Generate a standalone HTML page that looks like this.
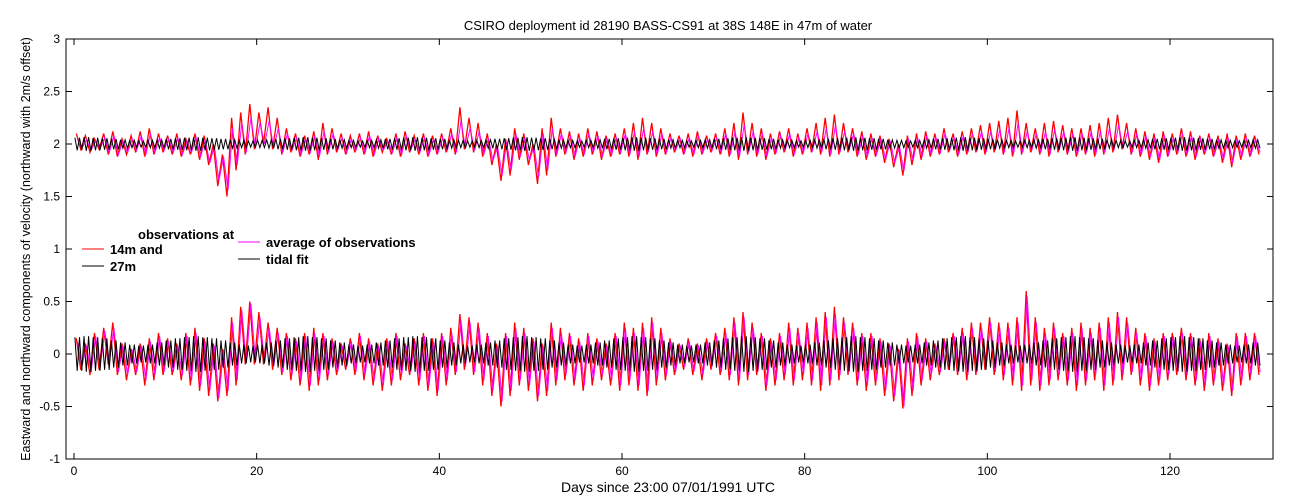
<!DOCTYPE html>
<html><head><meta charset="utf-8">
<style>
html,body{margin:0;padding:0;background:#fff;}
svg{display:block;font-family:"Liberation Sans",sans-serif;}
</style></head>
<body>
<svg id="chart" width="1300" height="500" viewBox="0 0 1300 500">
  <text x="668" y="30" text-anchor="middle" font-size="13">CSIRO deployment id 28190 BASS-CS91 at 38S 148E in 47m of water</text>
  <text x="668" y="492" text-anchor="middle" font-size="14">Days since 23:00 07/01/1991 UTC</text>
  <text transform="translate(30,249) rotate(-90)" text-anchor="middle" font-size="12.5">Eastward  and northward components of velocity  (northward with 2m/s offset)</text>
  <g id="series"></g>
  <g id="axes"></g>
  <g font-size="13" font-weight="bold">
    <text x="138" y="239">observations at</text>
    <line x1="82" y1="249" x2="104" y2="249" stroke="#ff0000"/>
    <text x="110" y="254">14m and</text>
    <line x1="82" y1="266" x2="104" y2="266" stroke="#000"/>
    <text x="110" y="271">27m</text>
    <line x1="238" y1="242" x2="260" y2="242" stroke="#ff00ff"/>
    <text x="266" y="247">average of observations</text>
    <line x1="238" y1="259" x2="260" y2="259" stroke="#000"/>
    <text x="266" y="264">tidal fit</text>
  </g>
</svg>
<script>
const xTicks=[0,20,40,60,80,100,120];
const yTicks=[-1,-0.5,0,0.5,1,1.5,2,2.5,3];
const yTickLabels=["-1","-0.5","0","0.5","1","1.5","2","2.5","3"];
const redUHi=[.15,.1,.2,.25,.3,.1,.05,.1,.15,.2,.15,.1,.2,.25,.15,.1,.05,.35,.45,.5,.4,.3,.25,.2,.15,.2,.25,.2,.15,.1,.15,.2,.15,.1,.15,.2,.1,.15,.2,.15,.2,.25,.38,.35,.3,.2,.1,.2,.3,.25,.15,.1,.3,.25,.2,.15,.2,.15,.1,.2,.3,.25,.3,.35,.25,.15,.1,.15,.1,.15,.2,.25,.35,.4,.3,.2,.15,.2,.3,.25,.3,.35,.4,.45,.35,.3,.2,.2,.15,.1,.05,.15,.2,.15,.1,.15,.2,.25,.3,.3,.35,.3,.3,.35,.6,.35,.25,.3,.2,.25,.3,.25,.3,.35,.4,.35,.25,.2,.15,.2,.2,.25,.2,.15,.2,.15,.1,.2,.2,.2];
const redULo=[-.15,-.2,-.15,-.1,-.2,-.25,-.2,-.3,-.25,-.2,-.2,-.25,-.3,-.35,-.4,-.45,-.4,-.3,-.1,-.1,-.1,-.15,-.2,-.25,-.3,-.35,-.3,-.25,-.2,-.15,-.2,-.25,-.3,-.35,-.3,-.25,-.2,-.3,-.35,-.4,-.3,-.2,-.15,-.2,-.3,-.4,-.5,-.4,-.3,-.35,-.45,-.4,-.3,-.25,-.3,-.35,-.3,-.25,-.3,-.35,-.3,-.35,-.4,-.3,-.25,-.2,-.15,-.2,-.25,-.15,-.2,-.25,-.3,-.25,-.2,-.35,-.3,-.25,-.3,-.25,-.3,-.35,-.3,-.25,-.2,-.3,-.35,-.3,-.4,-.45,-.52,-.4,-.3,-.25,-.2,-.15,-.2,-.25,-.2,-.15,-.2,-.25,-.3,-.35,-.3,-.35,-.3,-.25,-.3,-.35,-.3,-.25,-.35,-.3,-.25,-.2,-.3,-.35,-.3,-.25,-.2,-.25,-.3,-.35,-.3,-.35,-.4,-.3,-.25,-.2];
const magUHi=[.12,.08,.17,.22,.25,.08,.04,.08,.12,.17,.12,.08,.17,.2,.12,.08,.04,.3,.42,.48,.35,.25,.2,.17,.12,.17,.2,.17,.12,.08,.12,.17,.12,.08,.12,.17,.08,.12,.17,.12,.17,.2,.32,.3,.25,.17,.08,.17,.25,.2,.12,.08,.25,.2,.17,.12,.17,.12,.08,.17,.25,.2,.25,.3,.2,.12,.08,.12,.08,.12,.17,.2,.3,.35,.25,.17,.12,.17,.25,.2,.25,.3,.35,.38,.3,.25,.17,.17,.12,.08,.04,.12,.17,.12,.08,.12,.17,.2,.25,.25,.3,.25,.25,.3,.55,.3,.2,.25,.17,.2,.25,.2,.25,.3,.35,.3,.2,.17,.12,.17,.17,.2,.17,.12,.17,.12,.08,.17,.17,.17];
const magULo=[-.12,-.17,-.12,-.08,-.17,-.2,-.17,-.25,-.2,-.17,-.17,-.2,-.25,-.3,-.35,-.42,-.35,-.25,-.08,-.08,-.08,-.12,-.17,-.2,-.25,-.3,-.25,-.2,-.17,-.12,-.17,-.2,-.25,-.3,-.25,-.2,-.17,-.25,-.3,-.35,-.25,-.17,-.12,-.17,-.25,-.35,-.45,-.35,-.25,-.3,-.4,-.35,-.25,-.2,-.25,-.3,-.25,-.2,-.25,-.3,-.25,-.3,-.35,-.25,-.2,-.17,-.12,-.17,-.2,-.12,-.17,-.2,-.25,-.2,-.17,-.3,-.25,-.2,-.25,-.2,-.25,-.3,-.25,-.2,-.17,-.25,-.3,-.25,-.35,-.4,-.5,-.35,-.25,-.2,-.17,-.12,-.17,-.2,-.17,-.12,-.17,-.2,-.25,-.3,-.25,-.3,-.25,-.2,-.25,-.3,-.25,-.2,-.3,-.25,-.2,-.17,-.25,-.3,-.25,-.2,-.17,-.2,-.25,-.3,-.25,-.3,-.35,-.25,-.2,-.17];
const redVHi=[2.1,2.08,2.05,2.1,2.12,2.05,2.08,2.12,2.15,2.1,2.08,2.1,2.05,2.1,2.08,2.0,1.9,2.25,2.3,2.38,2.3,2.35,2.25,2.15,2.1,2.08,2.12,2.2,2.15,2.1,2.08,2.1,2.12,2.08,2.05,2.1,2.12,2.08,2.1,2.08,2.1,2.15,2.35,2.25,2.2,2.1,2.0,2.05,2.15,2.1,2.0,2.15,2.25,2.15,2.12,2.1,2.15,2.12,2.08,2.1,2.15,2.2,2.25,2.2,2.15,2.1,2.08,2.1,2.12,2.08,2.1,2.15,2.2,2.3,2.2,2.15,2.1,2.12,2.15,2.1,2.15,2.2,2.25,2.28,2.2,2.15,2.12,2.1,2.08,2.05,2.0,2.08,2.1,2.12,2.1,2.15,2.1,2.12,2.15,2.18,2.2,2.22,2.25,2.32,2.2,2.15,2.2,2.22,2.18,2.15,2.15,2.18,2.2,2.25,2.28,2.2,2.15,2.12,2.1,2.12,2.1,2.15,2.12,2.08,2.1,2.08,2.1,2.08,2.1,2.08];
const redVLo=[1.95,1.92,1.95,1.9,1.88,1.9,1.92,1.88,1.9,1.92,1.9,1.88,1.9,1.85,1.8,1.6,1.5,1.75,1.9,1.95,2.0,1.95,1.9,1.92,1.88,1.9,1.85,1.9,1.92,1.9,1.92,1.9,1.88,1.92,1.9,1.88,1.92,1.9,1.88,1.9,1.92,1.9,1.95,1.92,1.88,1.8,1.65,1.7,1.85,1.8,1.62,1.7,1.88,1.9,1.85,1.88,1.9,1.85,1.88,1.9,1.88,1.85,1.9,1.88,1.9,1.92,1.9,1.88,1.9,1.92,1.9,1.88,1.85,1.9,1.88,1.85,1.9,1.92,1.88,1.9,1.92,1.9,1.88,1.9,1.92,1.88,1.85,1.88,1.82,1.78,1.7,1.8,1.85,1.88,1.9,1.92,1.88,1.9,1.92,1.9,1.92,1.9,1.88,1.9,1.92,1.9,1.88,1.92,1.9,1.88,1.9,1.88,1.9,1.92,1.95,1.9,1.88,1.85,1.82,1.88,1.9,1.88,1.85,1.9,1.88,1.82,1.78,1.85,1.88,1.9];
const magVHi=[2.05,2.04,2.03,2.06,2.08,2.03,2.05,2.08,2.1,2.06,2.05,2.06,2.03,2.06,2.04,1.98,1.88,2.15,2.2,2.25,2.2,2.22,2.15,2.1,2.06,2.05,2.08,2.12,2.1,2.06,2.05,2.06,2.08,2.05,2.03,2.06,2.08,2.05,2.06,2.05,2.06,2.1,2.22,2.15,2.12,2.06,1.98,2.02,2.1,2.06,1.98,2.1,2.15,2.1,2.08,2.06,2.1,2.08,2.05,2.06,2.1,2.12,2.15,2.12,2.1,2.06,2.05,2.06,2.08,2.05,2.06,2.1,2.12,2.18,2.12,2.1,2.06,2.08,2.1,2.06,2.1,2.12,2.15,2.18,2.12,2.1,2.08,2.06,2.05,2.03,1.98,2.05,2.06,2.08,2.06,2.1,2.06,2.08,2.1,2.12,2.12,2.14,2.15,2.2,2.12,2.1,2.12,2.14,2.12,2.1,2.1,2.12,2.12,2.15,2.18,2.12,2.1,2.08,2.06,2.08,2.06,2.1,2.08,2.05,2.06,2.05,2.06,2.05,2.06,2.05];
const magVLo=[1.96,1.94,1.96,1.92,1.9,1.92,1.94,1.9,1.92,1.94,1.92,1.9,1.92,1.88,1.82,1.65,1.56,1.8,1.92,1.96,2.0,1.96,1.92,1.94,1.9,1.92,1.88,1.92,1.94,1.92,1.94,1.92,1.9,1.94,1.92,1.9,1.94,1.92,1.9,1.92,1.94,1.92,1.96,1.94,1.9,1.84,1.7,1.75,1.88,1.84,1.68,1.75,1.9,1.92,1.88,1.9,1.92,1.88,1.9,1.92,1.9,1.88,1.92,1.9,1.92,1.94,1.92,1.9,1.92,1.94,1.92,1.9,1.88,1.92,1.9,1.88,1.92,1.94,1.9,1.92,1.94,1.92,1.9,1.92,1.94,1.9,1.88,1.9,1.85,1.82,1.74,1.84,1.88,1.9,1.92,1.94,1.9,1.92,1.94,1.92,1.94,1.92,1.9,1.92,1.94,1.92,1.9,1.94,1.92,1.9,1.92,1.9,1.92,1.94,1.96,1.92,1.9,1.88,1.85,1.9,1.92,1.9,1.88,1.92,1.9,1.85,1.82,1.88,1.9,1.92];
const tideAmpU=[.16,.17,.16,.15,.13,.11,.09,.08,.09,.11,.13,.15,.16,.17,.16,.15,.13,.11,.09,.08,.09,.11,.13,.15,.16,.17,.16,.15,.13,.11,.09,.08,.09,.11,.13,.15,.16,.17,.16,.15,.13,.11,.09,.08,.09,.11,.13,.15,.16,.17,.16,.15,.13,.11,.09,.08,.09,.11,.13,.15,.16,.17,.16,.15,.13,.11,.09,.08,.09,.11,.13,.15,.16,.17,.16,.15,.13,.11,.09,.08,.09,.11,.13,.15,.16,.17,.16,.15,.13,.11,.09,.08,.09,.11,.13,.15,.16,.17,.16,.15,.13,.11,.09,.08,.09,.11,.13,.15,.16,.17,.16,.15,.13,.11,.09,.08,.09,.11,.13,.15,.16,.17,.16,.15,.13,.11,.09,.08,.09,.11];
const tideAmpV=[.06,.065,.06,.055,.05,.04,.035,.03,.035,.04,.05,.055,.06,.065,.06,.055,.05,.04,.035,.03,.035,.04,.05,.055,.06,.065,.06,.055,.05,.04,.035,.03,.035,.04,.05,.055,.06,.065,.06,.055,.05,.04,.035,.03,.035,.04,.05,.055,.06,.065,.06,.055,.05,.04,.035,.03,.035,.04,.05,.055,.06,.065,.06,.055,.05,.04,.035,.03,.035,.04,.05,.055,.06,.065,.06,.055,.05,.04,.035,.03,.035,.04,.05,.055,.06,.065,.06,.055,.05,.04,.035,.03,.035,.04,.05,.055,.06,.065,.06,.055,.05,.04,.035,.03,.035,.04,.05,.055,.06,.065,.06,.055,.05,.04,.035,.03,.035,.04,.05,.055,.06,.065,.06,.055,.05,.04,.035,.03,.035,.04];

const L=66,R=1273,T=39,B=459;
function xs(d){return 74+d*(1170-74)/120;}
function ys(v){return 354-v*105;}
const NS="http://www.w3.org/2000/svg";
const sg=document.getElementById('series');
const ax=document.getElementById('axes');
function mk(tag,attrs,parent){const e=document.createElementNS(NS,tag);for(const k in attrs)e.setAttribute(k,attrs[k]);parent.appendChild(e);return e;}
function drawHiLo(hi,lo,color,w,off){
  const pts=[];
  for(let i=0;i<hi.length;i++){
    pts.push(xs(i+0.25+off).toFixed(1)+','+ys(hi[i]).toFixed(1));
    pts.push(xs(i+0.75+off).toFixed(1)+','+ys(lo[i]).toFixed(1));
  }
  return mk('polyline',{points:pts.join(' '),fill:'none',stroke:color,'stroke-width':w},sg);
}
function drawTide(amp,center){
  const pts=[];
  for(let i=0;i<amp.length;i++){
    for(let k=0;k<2;k++){
      pts.push(xs(i+k*0.5+0.1).toFixed(1)+','+ys(center+amp[i]).toFixed(1));
      pts.push(xs(i+k*0.5+0.35).toFixed(1)+','+ys(center-amp[i]).toFixed(1));
    }
  }
  return mk('polyline',{points:pts.join(' '),fill:'none',stroke:'#000','stroke-width':1},sg);
}
const l1=drawHiLo(redUHi,redULo,'#ff0000',1.3,0);


const l2=drawHiLo(redVHi,redVLo,'#ff0000',1.3,0);


const l3=drawHiLo(magUHi,magULo,'#ff00ff',1,0.12);


const l4=drawHiLo(magVHi,magVLo,'#ff00ff',1,0.12);


const l5=drawTide(tideAmpU,0);


const l6=drawTide(tideAmpV,2);



const frame=mk('rect',{x:L,y:T,width:R-L,height:B-T,fill:'none',stroke:'#000','stroke-width':1},ax);


xTicks.forEach(d=>{
  const x=xs(d);
  mk('line',{x1:x,y1:B,x2:x,y2:B-6,stroke:'#000'},ax);
  mk('line',{x1:x,y1:T,x2:x,y2:T+6,stroke:'#000'},ax);
  const t=mk('text',{x:x,y:B+16,'text-anchor':'middle','font-size':12},ax);
  t.textContent=d;
  
  
});
yTicks.forEach((v,i)=>{
  const y=ys(v);
  mk('line',{x1:L,y1:y,x2:L+6,y2:y,stroke:'#000'},ax);
  mk('line',{x1:R,y1:y,x2:R-6,y2:y,stroke:'#000'},ax);
  const t=mk('text',{x:L-6,y:y+4,'text-anchor':'end','font-size':12},ax);
  t.textContent=yTickLabels[i];
  
  
});
</script>
</body></html>
